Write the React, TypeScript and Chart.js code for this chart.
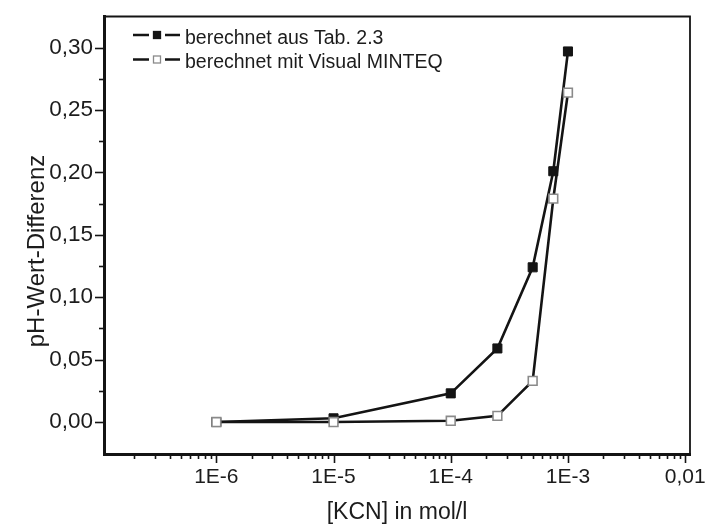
import React, { useEffect, useRef } from "react";
import { Chart, registerables } from "chart.js";

Chart.register(...registerables);

// ---- data ----
const kcnConcentrations = [1e-6, 1e-5, 1e-4, 2.5e-4, 5e-4, 7.5e-4, 1e-3];
const tabValues = [0, 0.003, 0.023, 0.059, 0.124, 0.201, 0.297];
const minteqValues = [0, 0, 0.001, 0.005, 0.033, 0.179, 0.264];
const seriesLabels = ["berechnet aus Tab. 2.3", "berechnet mit Visual MINTEQ"];
const xTickLabels: Record<string, string> = {
  "-6": "1E-6",
  "-5": "1E-5",
  "-4": "1E-4",
  "-3": "1E-3",
  "-2": "0,01",
};
const xTitle = "[KCN] in mol/l";
const yTitle = "pH-Wert-Differenz";

const FONT = "'Liberation Sans', Arial, sans-serif";
const INK = "#141414";
const TEXT = "#1c1c1c";

const decoPlugin = {
  id: "deco",
  afterDraw(chart: any) {
    const { ctx, chartArea: a, scales } = chart;
    const xs = scales.x;
    const ys = scales.y;
    ctx.save();
    ctx.strokeStyle = INK;
    // top / right frame
    ctx.lineWidth = 1.8;
    ctx.beginPath();
    ctx.moveTo(a.left, a.top);
    ctx.lineTo(a.right, a.top);
    ctx.lineTo(a.right, a.bottom);
    ctx.stroke();
    // x ticks (log, major + minor)
    ctx.lineWidth = 1.6;
    for (let e = -8; e <= -1; e++) {
      for (let k = 1; k <= 9; k++) {
        const v = k * Math.pow(10, e);
        if (v < xs.min || v > xs.max) continue;
        const px = Math.round(xs.getPixelForValue(v)) + 0.5;
        const len = k === 1 ? 9 : 5;
        ctx.beginPath();
        ctx.moveTo(px, a.bottom);
        ctx.lineTo(px, a.bottom + len);
        ctx.stroke();
      }
    }
    // y ticks
    for (let i = 0; i <= 13; i++) {
      const v = i * 0.025;
      if (v >= ys.max - 1e-6) continue;
      const py = Math.round(ys.getPixelForValue(v)) + 0.5;
      const len = i % 2 === 0 ? 9 : 5;
      ctx.beginPath();
      ctx.moveTo(a.left, py);
      ctx.lineTo(a.left - len, py);
      ctx.stroke();
    }
    // y title
    ctx.fillStyle = TEXT;
    ctx.font = `24px ${FONT}`;
    ctx.textAlign = "center";
    ctx.textBaseline = "alphabetic";
    ctx.save();
    ctx.translate(44, 251);
    ctx.rotate(-Math.PI / 2);
    ctx.fillText(yTitle, 0, 0);
    ctx.restore();
    // legend
    const rows = [0, 1];
    rows.forEach((i) => {
      const ds = chart.data.datasets[i];
      const ly = 35 + i * 24.5;
      ctx.strokeStyle = INK;
      ctx.lineWidth = 2.6;
      ctx.beginPath();
      ctx.moveTo(133, ly);
      ctx.lineTo(149, ly);
      ctx.moveTo(165, ly);
      ctx.lineTo(180, ly);
      ctx.stroke();
      ctx.fillStyle = ds.pointBackgroundColor;
      ctx.strokeStyle = ds.pointBorderColor;
      ctx.lineWidth = 1.3;
      ctx.fillRect(153.5, ly - 3.5, 7, 7);
      ctx.strokeRect(153.5, ly - 3.5, 7, 7);
      ctx.fillStyle = TEXT;
      ctx.font = `19.5px ${FONT}`;
      ctx.textAlign = "left";
      ctx.textBaseline = "alphabetic";
      ctx.fillText(ds.label, 185, ly + 8.5);
    });
    ctx.restore();
  },
};

export default function App() {
  const ref = useRef<HTMLCanvasElement | null>(null);
  useEffect(() => {
    if (!ref.current) return;
    const chart = new Chart(ref.current, {
      type: "line",
      data: {
        datasets: [
          {
            label: seriesLabels[0],
            data: kcnConcentrations.map((x, i) => ({ x, y: tabValues[i] })),
            borderColor: INK,
            borderWidth: 2.6,
            pointStyle: "rect",
            pointRadius: 6.4,
            pointBackgroundColor: INK,
            pointBorderColor: INK,
            pointBorderWidth: 1,
            tension: 0,
            order: 2,
          },
          {
            label: seriesLabels[1],
            data: kcnConcentrations.map((x, i) => ({ x, y: minteqValues[i] })),
            borderColor: INK,
            borderWidth: 2.6,
            pointStyle: "rect",
            pointRadius: 6.2,
            pointBackgroundColor: "#ffffff",
            pointBorderColor: "#8a8a8a",
            pointBorderWidth: 1.6,
            tension: 0,
            order: 1,
          },
        ],
      },
      options: {
        animation: false,
        responsive: false,
        maintainAspectRatio: false,
        layout: { padding: { top: 12, right: 15, left: 0, bottom: 0 } },
        plugins: {
          legend: { display: false },
          tooltip: { enabled: false },
        },
        scales: {
          x: {
            type: "logarithmic",
            min: 1.1e-7,
            max: 0.011,
            afterFit: (s: any) => {
              s.height = 76;
            },
            grid: { display: false, drawTicks: true, tickLength: 8 },
            border: { display: true, width: 3, color: INK },
            ticks: {
              autoSkip: false,
              maxRotation: 0,
              padding: 3,
              color: TEXT,
              font: { family: FONT, size: 21 },
              callback: (v: any) => {
                const l = Math.log10(Number(v));
                const r = Math.round(l);
                if (Math.abs(l - r) > 1e-6) return "";
                return xTickLabels[String(r)] ?? "";
              },
            },
            title: {
              display: true,
              text: xTitle,
              color: TEXT,
              font: { family: FONT, size: 23 },
              padding: { top: 0, bottom: 4 },
            },
          },
          y: {
            type: "linear",
            min: -0.0256,
            max: 0.325,
            afterFit: (s: any) => {
              s.width = 104;
            },
            grid: { display: false, drawTicks: true, tickLength: 8 },
            border: { display: true, width: 3, color: INK },
            ticks: {
              stepSize: 0.05,
              includeBounds: false,
              padding: 3,
              color: TEXT,
              font: { family: FONT, size: 22.5 },
              callback: (v: any) => {
                const n = Math.abs(Number(v)) < 1e-9 ? 0 : Number(v);
                return n.toFixed(2).replace(".", ",");
              },
            },
          },
        },
      },
      plugins: [decoPlugin],
    });
    return () => chart.destroy();
  }, []);
  return (
    <div style={{ position: "fixed", left: 0, top: 0, width: 705, height: 530, background: "#fff" }}>
      <canvas ref={ref} width={705} height={530} style={{ width: 705, height: 530 }} />
    </div>
  );
}
